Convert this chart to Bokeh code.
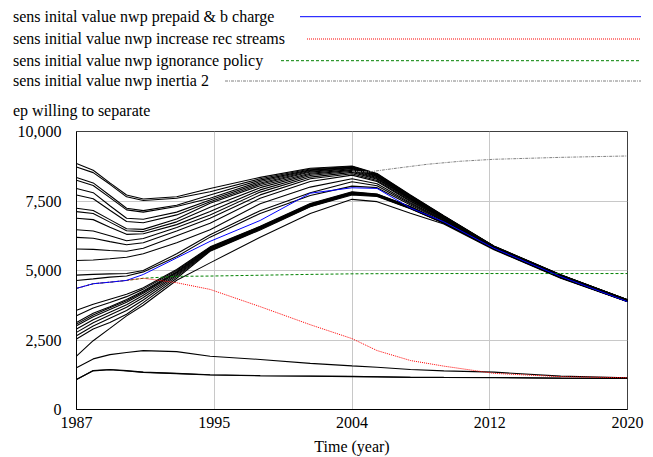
import html
from bokeh.plotting import figure
from bokeh.layouts import column
from bokeh.models import Range1d, FixedTicker, NumeralTickFormatter, Div
from bokeh.embed import file_html
from bokeh.resources import INLINE

# ---------------- data ----------------
years = [1987, 1988, 1989, 1990, 1991, 1993, 1995, 1998, 2001, 2003.5, 2005, 2007, 2009, 2012, 2016, 2020]

# sensitivity runs (black) - upper group
u01 = [8845, 8607, 8154, 7714, 7570, 7655, 7952, 8350, 8680, 8760, 8490, 7714, 6970, 5880, 4850, 3950]
u02 = [8726, 8520, 8100, 7650, 7520, 7600, 7830, 8300, 8650, 8740, 8470, 7700, 6960, 5875, 4845, 3948]
u03 = [8345, 8150, 7700, 7238, 7155, 7350, 7714, 8250, 8620, 8720, 8450, 7680, 6950, 5870, 4840, 3945]
u04 = [8250, 8060, 7620, 7180, 7100, 7300, 7600, 8200, 8600, 8700, 8430, 7660, 6940, 5865, 4835, 3943]
u05 = [7952, 7800, 7330, 6881, 6845, 7100, 7536, 8150, 8570, 8680, 8410, 7640, 6930, 5860, 4830, 3940]
u06 = [7714, 7580, 7170, 6762, 6720, 7000, 7476, 8100, 8540, 8660, 8390, 7620, 6920, 5855, 4825, 3938]
u07 = [7238, 7160, 6830, 6500, 6480, 6850, 7417, 8050, 8500, 8630, 8370, 7600, 6910, 5850, 4820, 3935]
u08 = [7119, 7050, 6740, 6429, 6400, 6750, 7274, 7980, 8460, 8600, 8340, 7580, 6900, 5845, 4815, 3932]
u09 = [6881, 6830, 6560, 6300, 6320, 6650, 7119, 7900, 8420, 8570, 8310, 7560, 6890, 5840, 4810, 3930]
u10 = [6464, 6420, 6250, 6071, 6150, 6550, 7000, 7820, 8360, 8530, 8280, 7540, 6880, 5835, 4805, 3928]
u11 = [6190, 6160, 6040, 5929, 6000, 6420, 6880, 7720, 8300, 8480, 8240, 7510, 6860, 5830, 4800, 3925]
u12 = [5774, 5760, 5720, 5690, 5800, 6250, 6700, 7600, 8200, 8430, 8200, 7480, 6840, 5825, 4795, 3922]
u13 = [5357, 5380, 5420, 5476, 5600, 6000, 6464, 7400, 8000, 8300, 8120, 7440, 6820, 5820, 4790, 3920]
u14 = [4833, 4860, 4880, 4893, 5000, 5600, 6286, 7150, 7800, 8190, 8050, 7400, 6800, 5815, 4785, 3918]
u15 = [4643, 4700, 4760, 4800, 4950, 5500, 6200, 7050, 7700, 8036, 7980, 7360, 6780, 5810, 4780, 3915]
# lower group
l01 = [3571, 3786, 3964, 4143, 4381, 5036, 5850, 6590, 7410, 7830, 7750, 7300, 6740, 5790, 4760, 3900]
l02 = [3369, 3650, 3850, 4060, 4330, 5000, 5830, 6575, 7395, 7815, 7740, 7290, 6735, 5788, 4758, 3898]
l03 = [3131, 3460, 3700, 3960, 4260, 4960, 5810, 6560, 7380, 7800, 7730, 7280, 6730, 5785, 4755, 3896]
l04 = [3071, 3400, 3660, 3910, 4230, 4940, 5790, 6545, 7365, 7790, 7720, 7270, 6725, 5783, 4753, 3894]
l05 = [3012, 3340, 3600, 3860, 4180, 4910, 5770, 6530, 7350, 7780, 7710, 7260, 6720, 5780, 4750, 3892]
l06 = [2893, 3230, 3500, 3770, 4110, 4870, 5750, 6515, 7335, 7770, 7700, 7250, 6715, 5778, 4748, 3890]
l07 = [2774, 3120, 3400, 3680, 4030, 4830, 5730, 6500, 7320, 7755, 7690, 7240, 6710, 5775, 4745, 3888]
l08 = [2655, 3000, 3280, 3560, 3940, 4780, 5710, 6480, 7305, 7740, 7680, 7230, 6705, 5772, 4742, 3886]
l09 = [2536, 2893, 3131, 3429, 3845, 4720, 5690, 6460, 7290, 7714, 7660, 7220, 6700, 5770, 4740, 3884]
l10 = [1918, 2475, 2920, 3369, 3750, 4650, 5274, 6200, 7050, 7560, 7476, 7060, 6670, 5750, 4720, 3880]
# bottom runs
b01 = [1500, 1820, 1975, 2050, 2118, 2082, 1918, 1800, 1660, 1570, 1520, 1440, 1390, 1345, 1200, 1143]
b02 = [1083, 1404, 1440, 1400, 1345, 1300, 1250, 1220, 1205, 1190, 1180, 1160, 1154, 1150, 1130, 1118]
b03 = [1083, 1390, 1430, 1385, 1335, 1290, 1240, 1212, 1198, 1183, 1172, 1155, 1150, 1146, 1126, 1115]

# named scenario runs
prepaid_b_charge = [4357, 4524, 4580, 4643, 4857, 5452, 6048, 6800, 7780, 7976, 7952, 7250, 6750, 5800, 4780, 3880]
increase_rec_streams = [4357, 4524, 4580, 4643, 4720, 4560, 4320, 3700, 3050, 2550, 2120, 1762, 1560, 1300, 1180, 1143]
ignorance_policy = [4357, 4524, 4580, 4643, 4720, 4790, 4800, 4830, 4860, 4880, 4885, 4888, 4890, 4890, 4890, 4890]
inertia_years = [2003.5, 2004.5, 2006, 2008, 2010, 2012, 2016, 2020]
inertia_2 = [8570, 8545, 8667, 8820, 8930, 9000, 9070, 9120]

x_tick_pos = [1987, 1995.25, 2003.5, 2011.75, 2020]
x_tick_labels = ["1987", "1995", "2004", "2012", "2020"]
y_ticks = [0, 2500, 5000, 7500, 10000]

legend_names = ["sens inital value nwp prepaid & b charge",
                "sens initial value nwp increase rec streams",
                "sens initial value nwp ignorance policy",
                "sens initial value nwp inertia 2"]
var_title = "ep willing to separate"
x_title = "Time (year)"

black_runs = [u01, u02, u03, u04, u05, u06, u07, u08, u09, u10, u11, u12, u13, u14, u15,
              l01, l02, l03, l04, l05, l06, l07, l08, l09, l10, b01, b02, b03]

FONT = "Liberation Serif"
W = 653
HEAD_H = 123          # legend block above the plot
MAIN_H = 457 - HEAD_H

# ---------------- header (legend block, Vensim style) ----------------
TXT_STYLE = "font-family:'Liberation Serif',serif;font-size:16px;fill:#000000;"
legend_rows = [(16.7, 300, "#0000ff", "none"),
               (39.0, 307, "#ff0000", "1 1"),
               (60.7, 281, "#008000", "3 2"),
               (81.0, 225, "#808080", "3 1 1 1")]
parts = ['<svg xmlns="http://www.w3.org/2000/svg" width="%d" height="%d" style="display:block">'
         % (W, HEAD_H)]
for name, (ly, lx0, col, dash) in zip(legend_names, legend_rows):
    parts.append('<text x="13" y="%.1f" style="%s">%s</text>' % (ly + 5.0, TXT_STYLE, html.escape(name)))
    parts.append('<line x1="%d" y1="%.1f" x2="641" y2="%.1f" stroke="%s" stroke-width="1" '
                 'stroke-dasharray="%s"/>' % (lx0, ly, ly, col, dash))
parts.append('<text x="13" y="115.5" style="%s">%s</text>' % (TXT_STYLE, html.escape(var_title)))
parts.append('</svg>')
head = Div(text="".join(parts), width=W, height=HEAD_H, margin=(0, 0, 0, 0))

# ---------------- main chart ----------------
p = figure(width=W, height=MAIN_H, output_backend="svg", toolbar_location=None,
           x_range=Range1d(1987, 2020), y_range=Range1d(0, 10000),
           min_border_left=76, min_border_right=26, min_border_top=8,
           min_border_bottom=MAIN_H - 8 - 280)
p.background_fill_color = "white"
p.border_fill_color = "white"
p.outline_line_color = "#404040"
p.outline_line_width = 1

p.xaxis.ticker = FixedTicker(ticks=x_tick_pos)
p.xaxis.major_label_overrides = {t: lab for t, lab in zip(x_tick_pos, x_tick_labels)}
p.yaxis.ticker = FixedTicker(ticks=y_ticks)
p.yaxis.formatter = NumeralTickFormatter(format="0,0")
for ax in (p.xaxis, p.yaxis):
    ax.major_tick_out = 0
    ax.major_tick_in = 0
    ax.minor_tick_out = 0
    ax.minor_tick_in = 0
    ax.axis_line_color = "black"
    ax.axis_line_width = 1
    ax.major_label_text_font = FONT
    ax.major_label_text_font_size = "16px"
    ax.major_label_text_color = "black"
p.xaxis.major_label_standoff = 7
p.yaxis.major_label_standoff = 15
p.xaxis.axis_label = x_title
p.xaxis.axis_label_text_font = FONT
p.xaxis.axis_label_text_font_size = "16px"
p.xaxis.axis_label_text_font_style = "normal"
p.xaxis.axis_label_text_color = "black"
p.xaxis.axis_label_standoff = 7

p.xgrid.ticker = FixedTicker(ticks=x_tick_pos[1:-1])
p.ygrid.ticker = FixedTicker(ticks=y_ticks[1:-1])
for g in (p.xgrid, p.ygrid):
    g.grid_line_color = "#c8c8c8"
    g.grid_line_width = 1

for run in black_runs:
    p.line(years, run, line_color="black", line_width=1.1)
p.line(inertia_years, inertia_2, line_color="#808080", line_width=1, line_dash="3 1 1 1")
p.line(years, ignorance_policy, line_color="#008000", line_width=1, line_dash="3 2")
p.line(years, increase_rec_streams, line_color="#ff0000", line_width=1, line_dash="1 1")
p.line(years, prepaid_b_charge, line_color="#0000ff", line_width=1)

layout = column(head, p, spacing=0)
open("out.html", "w").write(file_html(layout, INLINE))
